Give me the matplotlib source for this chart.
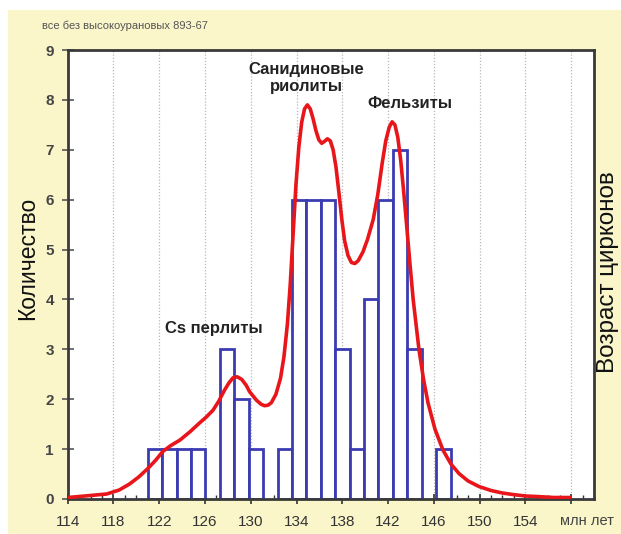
import matplotlib
matplotlib.use("Agg")
import matplotlib.pyplot as plt
from matplotlib.patches import Rectangle
from matplotlib.ticker import MultipleLocator

plt.rcParams['font.family'] = ['Liberation Sans', 'DejaVu Sans']

# ---- data ----
bin_start = 121.0
bin_width = 1.26
counts = [1, 1, 1, 1, 0, 3, 2, 1, 0, 1, 6, 6, 6, 3, 1, 4, 6, 7, 3, 0, 1]

curve_x = [114.0, 115.5, 117.4, 118.5, 119.4, 120.2, 121.0, 121.7, 122.3, 123.0,
           123.8, 124.7, 125.5, 126.1, 126.7, 127.2, 127.7, 128.1, 128.45, 128.8,
           129.2, 129.6, 129.9, 130.5, 130.9, 131.2, 131.5, 131.8, 132.2, 132.6,
           132.9, 133.2, 133.45, 133.7, 133.95, 134.2, 134.45, 134.7, 134.95, 135.2,
           135.45, 135.7, 135.95, 136.2, 136.45, 136.7, 136.95, 137.2, 137.45, 137.7,
           137.95, 138.2, 138.5, 138.8, 139.1, 139.4, 139.8, 140.2, 140.7, 141.1,
           141.5, 141.8, 142.1, 142.35, 142.6, 142.85, 143.1, 143.35, 143.6, 143.9,
           144.2, 144.7, 145.1, 145.5, 146.1, 146.8, 147.5, 148.2, 149.0, 149.95,
           151.0, 152.0, 152.9, 154.0, 155.0, 156.5, 157.9]
curve_y = [0.03, 0.06, 0.10, 0.18, 0.30, 0.44, 0.61, 0.78, 0.95, 1.07,
           1.18, 1.35, 1.52, 1.64, 1.78, 1.96, 2.18, 2.33, 2.43, 2.45,
           2.40, 2.28, 2.15, 1.98, 1.90, 1.87, 1.88, 1.93, 2.10, 2.42,
           2.85, 3.50, 4.30, 5.30, 6.30, 7.05, 7.55, 7.82, 7.90, 7.82,
           7.62, 7.38, 7.20, 7.13, 7.17, 7.22, 7.18, 7.00, 6.65, 6.15,
           5.62, 5.18, 4.88, 4.74, 4.72, 4.78, 4.95, 5.20, 5.60, 6.10,
           6.75, 7.18, 7.45, 7.56, 7.50, 7.25, 6.80, 6.20, 5.55, 4.75,
           3.99, 3.00, 2.40, 1.92, 1.40, 0.98, 0.70, 0.51, 0.36, 0.25,
           0.17, 0.12, 0.09, 0.06, 0.05, 0.03, 0.03]

x_ticks = [114, 118, 122, 126, 130, 134, 138, 142, 146, 150, 154, 158]
x_tick_labels = ['114', '118', '122', '126', '130', '134', '138', '142', '146', '150', '154', '']
y_ticks = list(range(0, 10))

W, H = 621, 534
fig = plt.figure(figsize=(W / 100, H / 100), dpi=100)
fig.patch.set_facecolor('white')
fig.patches.append(Rectangle((8 / W, 0), 1, 1 - 10 / H, transform=fig.transFigure,
                             facecolor='#FAF6CA', edgecolor='none', zorder=-10))

ax = fig.add_axes([67.7 / W, 1 - 499 / H, (594 - 67.7) / W, (499 - 50) / H])
ax.set_facecolor('white')
ax.set_xlim(114, 160)
ax.set_ylim(0, 9)

# vertical dotted grid
ax.set_xticks(x_ticks)
ax.set_xticklabels(x_tick_labels)
ax.xaxis.set_minor_locator(MultipleLocator(1))
ax.grid(axis='x', which='major', color='#b8b8b8', linestyle=(0, (1, 1.5)), linewidth=0.9)
ax.set_axisbelow(True)

# histogram bars
lefts = [bin_start + i * bin_width for i in range(len(counts))]
for l, c in zip(lefts, counts):
    if c > 0:
        ax.bar(l, c, width=bin_width, align='edge', facecolor='white',
               edgecolor='#3b3bb2', linewidth=2.0, zorder=2)

ax.plot(curve_x, curve_y, color='#e8161b', linewidth=2.6, zorder=3,
        solid_capstyle='round', solid_joinstyle='round')

ax.set_yticks(y_ticks)
ax.tick_params(axis='x', which='major', direction='inout', length=7, width=1.2,
               color='#333333', labelsize=11, labelcolor='#333333', pad=8)
ax.tick_params(axis='x', which='minor', direction='in', length=3, width=1,
               color='#333333')
ax.tick_params(axis='y', which='major', direction='inout', length=8, width=1.2,
               color='#555555', labelsize=11, labelcolor='#444444', pad=6)
for lab in ax.get_yticklabels():
    lab.set_fontweight('bold')

for s in ax.spines.values():
    s.set_color('#3a3a3a')
    s.set_linewidth(2.0)

# texts
fig.text(42 / W, 1 - 26 / H, 'все без высокоурановых 893-67', fontsize=8,
         color='#555555', ha='left', va='center')
fig.text(214 / W, 1 - 328 / H, 'Cs перлиты', fontsize=12, fontweight='bold',
         color='#222222', ha='center', va='center')
fig.text(306 / W, 1 - 78 / H, 'Санидиновые\nриолиты', fontsize=12, fontweight='bold',
         color='#222222', ha='center', va='center', linespacing=1.2)
fig.text(410 / W, 1 - 104 / H, 'Фельзиты', fontsize=12, fontweight='bold',
         color='#222222', ha='center', va='center')
fig.text(28 / W, 1 - 258 / H, 'Количество', fontsize=16.5, rotation=90,
         color='#111111', ha='center', va='center')
fig.text(608 / W, 1 - 272 / H, 'Возраст цирконов', fontsize=17.5, rotation=90,
         color='#111111', ha='center', va='center')
fig.text(587 / W, 1 - 521 / H, 'млн лет', fontsize=10.5, color='#444444',
         ha='center', va='center')

fig.savefig('out.png', dpi=100, facecolor=fig.get_facecolor())
